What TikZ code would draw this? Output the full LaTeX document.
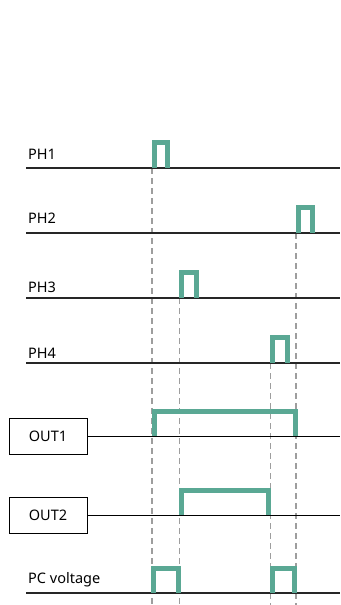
\documentclass[tikz,border=0pt]{standalone}
\usepackage{fontspec}
\setmainfont{Noto Sans}
\usepackage{tikz}

\definecolor{pulsegreen}{HTML}{5AA894}
\tikzset{
  sigline/.style={line width=1.3pt, black!85},
  pulse/.style={line width=5pt, pulsegreen, line join=miter},
  guide/.style={line width=1.1pt, black!38, dash pattern=on 6pt off 4pt},
  lbl/.style={anchor=base west, inner sep=0pt, font=\fontsize{14.5}{17}\selectfont},
  outbox/.style={draw, line width=0.8pt, minimum width=78pt, minimum height=36pt,
    inner sep=0pt, font=\fontsize{14.5}{17}\selectfont}
}

\begin{document}
\begin{tikzpicture}[x=1pt,y=-1pt]
  \useasboundingbox (0,0) rectangle (340,605);
  %%%%%%%%%%%%%%%%%%%%%%%%%%%%%%%%
  % dashed guides
  \draw[guide] (152,168)--(152,605);
  \draw[guide] (179.5,298)--(179.5,605);
  \draw[guide] (270.5,363)--(270.5,605);
  \draw[guide] (296,233)--(296,605);
  %%%%%%%%%%%%%%%%%%%%%%%%%%%%%%%%
  % labels
  \node[lbl] (ph1) at (28,159){PH1};
  \node[lbl] (ph2) at (28,223){PH2};
  \node[lbl] (ph3) at (28,292){PH3};
  \node[lbl] (ph4) at (28,358.5){PH4};
  \node[outbox] (out1) at (48,436){OUT1};
  \node[outbox] (out2) at (48,515){OUT2};
  \node[lbl] (pcv) at (28,583){PC voltage};
  %%%%%%%%%%%%%%%%%%%%%%%%%%%%%%%%
  % signal lines
  \foreach \n/\y in {1/168,2/233,3/298,4/363}{
    \coordinate (ph\n l) at (26,\y);
    \coordinate (ph\n r) at (340,\y);
    \draw[sigline] (ph\n l)--(ph\n r);
  }
  \coordinate (out1r) at (340,436);
  \coordinate (out2r) at (340,515);
  \draw[line width=1pt] (out1.east)--(out1r);
  \draw[line width=1pt] (out2.east)--(out2r);
  \coordinate (pcvl) at (26,593);
  \coordinate (pcvr) at (340,593);
  \draw[sigline] (pcvl)--(pcvr);
  %%%%%%%%%%%%%%%%%%%%%%%%%%%%%%%%
  % pulses
  \draw[pulse] (154.5,168) |- (167,142.5)--(167,168);
  \draw[pulse] (298.5,233) |- (312.5,207)--(312.5,233);
  \draw[pulse] (181.5,298) |- (196,272)--(196,298);
  \draw[pulse] (272.5,363) |- (287,337)--(287,363);
  \draw[pulse] (154,436) |- (295,411)--(295,436);
  \draw[pulse] (181.5,515) |- (268.5,490)--(268.5,515);
  \draw[pulse] (153.5,593) |- (178,568)--(178,593);
  \draw[pulse] (272.5,593) |- (294,568)--(294,593);
\end{tikzpicture}
\end{document}
